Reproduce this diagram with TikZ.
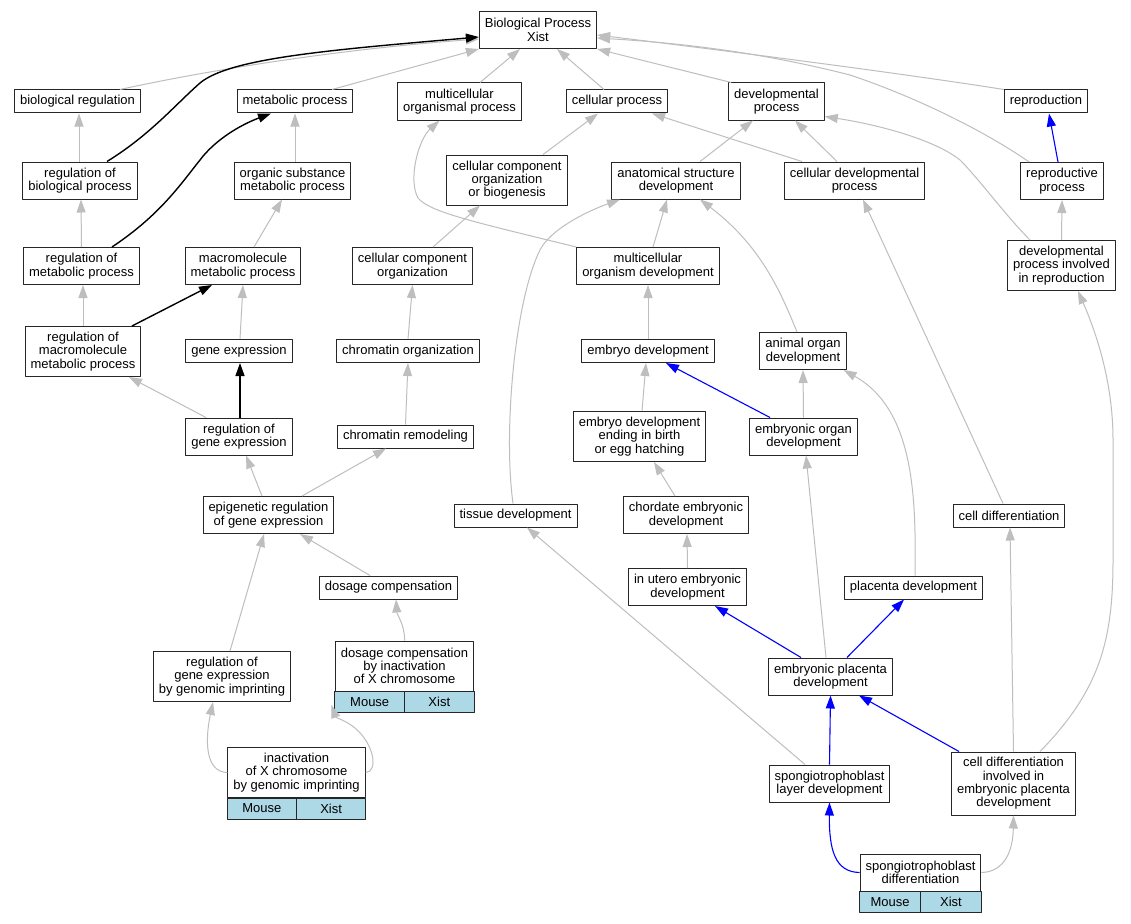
\documentclass[tikz,border=0pt]{standalone}
\usepackage{fontspec}
\setmainfont{Liberation Sans}
\usetikzlibrary{arrows.meta,fit}
\definecolor{isagray}{HTML}{BEBEBE}
\definecolor{cellblue}{HTML}{ADD8E6}
\begin{document}
\begin{tikzpicture}[x=1pt, y=-1pt, font=\fontsize{13}{13.3}\selectfont, line join=round, >={Triangle[length=13pt,width=9pt]},
    box1/.style={draw=black!85, line width=1pt, fill=white, align=center, inner xsep=5.5pt, inner ysep=0pt, minimum height=23pt},
    box2/.style={box1, minimum height=37pt},
    box3/.style={box1, minimum height=50pt},
    box4/.style={box1, minimum height=63pt},
    cell/.style={draw=black!85, line width=1pt, fill=cellblue, inner sep=0pt},
    isa/.style={->, isagray, line width=1pt},
    regs/.style={->, black, line width=1.4pt},
    partof/.style={->, blue, line width=1.1pt}]
    \path[use as bounding box, fill=white] (0,0) rectangle (1131,923);
    \node[box2] (bp) at (538,30) {Biological Process\\Xist};
    \node[box1] (bioreg) at (77.5,101.5) {biological regulation};
    \node[box1] (metab) at (295,101.5) {metabolic process};
    \node[box2] (mcorgp) at (459.5,101.5) {multicellular\\organismal process};
    \node[box1] (cellp) at (617,101.5) {cellular process};
    \node[box2] (devp) at (776.5,101.5) {developmental\\process};
    \node[box1] (repro) at (1046,101.5) {reproduction};
    \node[box2] (regbp) at (80,180.5) {regulation of\\biological process};
    \node[box2] (orgsub) at (292.5,180.5) {organic substance\\metabolic process};
    \node[box3] (ccob) at (507,180) {cellular component\\organization\\or biogenesis};
    \node[box2] (asdev) at (676,180.5) {anatomical structure\\development};
    \node[box2] (celldevp) at (854.5,180.5) {cellular developmental\\process};
    \node[box2] (reprop) at (1062,181) {reproductive\\process};
    \node[box2] (regmp) at (81.5,266) {regulation of\\metabolic process};
    \node[box2] (macro) at (243,266) {macromolecule\\metabolic process};
    \node[box2] (cco) at (412.5,266) {cellular component\\organization};
    \node[box2] (mcodev) at (648,266) {multicellular\\organism development};
    \node[box3] (dpir) at (1061.5,265.5) {developmental\\process involved\\in reproduction};
    \node[box3] (regmmp) at (83,351.5) {regulation of\\macromolecule\\metabolic process};
    \node[box1] (geneexp) at (239,351) {gene expression};
    \node[box1] (chromorg) at (408,351) {chromatin organization};
    \node[box1] (embdev) at (648,351) {embryo development};
    \node[box2] (aodev) at (803,351) {animal organ\\development};
    \node[box2] (reggene) at (239,436.5) {regulation of\\gene expression};
    \node[box1] (chromrem) at (405.5,436.5) {chromatin remodeling};
    \node[box3] (edbirth) at (639.5,436.5) {embryo development\\ending in birth\\or egg hatching};
    \node[box2] (eodev) at (803.5,436.5) {embryonic organ\\development};
    \node[box2] (epireg) at (268.5,515) {epigenetic regulation\\of gene expression};
    \node[box1] (tissdev) at (515.5,515.5) {tissue development};
    \node[box2] (chordev) at (686,515) {chordate embryonic\\development};
    \node[box1] (celldiff) at (1009,515.5) {cell differentiation};
    \node[box1] (dosage) at (388.5,587.5) {dosage compensation};
    \node[box2] (inutero) at (687.5,587) {in utero embryonic\\development};
    \node[box1] (placdev) at (913.5,587.5) {placenta development};
    \node[box3] (regimp) at (222,676.5) {regulation of\\gene expression\\by genomic imprinting};
    \node[box3] (dcx) at (404.5,666) {dosage compensation\\by inactivation\\of X chromosome};
    \node[cell, fit={(dcx.south west) ([yshift=-21pt]dcx.south)}, label={center:Mouse}] (dcxmouse) {};
    \node[cell, fit={(dcx.south) ([yshift=-21pt]dcx.south east)}, label={center:Xist}] (dcxxist) {};
    \node[box2] (embplac) at (830.5,676.5) {embryonic placenta\\development};
    \node[box3] (inactx) at (296.5,772.5) {inactivation\\of X chromosome\\by genomic imprinting};
    \node[cell, fit={(inactx.south west) ([yshift=-21pt]inactx.south)}, label={center:Mouse}] (inactxmouse) {};
    \node[cell, fit={(inactx.south) ([yshift=-21pt]inactx.south east)}, label={center:Xist}] (inactxxist) {};
    \node[box2] (sponglayer) at (829.5,783.5) {spongiotrophoblast\\layer development};
    \node[box4] (cdiep) at (1013.5,783.5) {cell differentiation\\involved in\\embryonic placenta\\development};
    \node[box2] (spongdiff) at (920.5,872.5) {spongiotrophoblast\\differentiation};
    \node[cell, fit={(spongdiff.south west) ([yshift=-21pt]spongdiff.south)}, label={center:Mouse}] (spongdiffmouse) {};
    \node[cell, fit={(spongdiff.south) ([yshift=-21pt]spongdiff.south east)}, label={center:Xist}] (spongdiffxist) {};
    \draw[isa] ([xshift=42.5pt]bioreg.north) .. controls (200,72) and (330,50) .. ([yshift=-9pt]bp.west);
    \draw[isa] ([xshift=37pt]metab.north) -- (bp.south west);
    \draw[isa] ([xshift=20.5pt]mcorgp.north) -- ([xshift=-18pt]bp.south);
    \draw[isa] ([xshift=-13pt]cellp.north) -- ([xshift=19pt]bp.south);
    \draw[isa] ([xshift=3pt]devp.north west) -- (bp.south east);
    \draw[isa] (repro.north west) .. controls (900,73) and (720,50) .. ([yshift=-5pt]bp.east);
    \draw[isa] ([xshift=9pt]reprop.north west) .. controls (980,128) and (910,95) .. (850,75) .. controls (760,52) and (680,43) .. ([yshift=-8pt]bp.east);
    \draw[isa] ([xshift=-1pt]regbp.north) -- ([xshift=1.5pt]bioreg.south);
    \draw[isa] ([xshift=2.5pt]orgsub.north) -- (metab.south);
    \draw[isa] ([xshift=36pt]ccob.north) -- ([xshift=-19pt]cellp.south);
    \draw[isa] ([xshift=24pt]asdev.north) -- ([xshift=-23.5pt]devp.south);
    \draw[isa] ([xshift=-17.5pt]celldevp.north) -- ([xshift=18.5pt]devp.south);
    \draw[isa] ([xshift=-52.5pt]celldevp.north) -- ([xshift=35pt]cellp.south);
    \draw[isa] ([xshift=-31.5pt]dpir.north) .. controls (1005,215) and (980,180) .. (960,160) .. controls (935,140) and (880,125) .. ([yshift=-15pt]devp.east);
    \draw[isa] (dpir.north) -- (reprop.south);
    \draw[isa] (regmp.north) -- ([xshift=1pt]regbp.south);
    \draw[isa] ([xshift=11pt]macro.north) -- ([xshift=-10.5pt]orgsub.south);
    \draw[isa] ([xshift=20.5pt]cco.north) -- ([xshift=-27pt]ccob.south);
    \draw[isa] ([xshift=5pt]mcodev.north) -- ([xshift=-9pt]asdev.south);
    \draw[isa] (mcodev.north west) .. controls (470,221) and (430,212) .. (418,198) .. controls (408,180) and (418,140) .. ([xshift=-20pt]mcorgp.south);
    \draw[isa] (regmmp.north) -- ([xshift=1.5pt]regmp.south);
    \draw[isa] ([xshift=1pt]geneexp.north) -- (macro.south);
    \draw[isa] (chromorg.north) -- (cco.south);
    \draw[isa] (embdev.north) -- (mcodev.south);
    \draw[isa] ([xshift=-6pt]aodev.north) .. controls (780,290) and (760,245) .. ([xshift=24pt]asdev.south);
    \draw[isa] ([xshift=-33pt]reggene.north) -- ([xshift=46pt]regmmp.south);
    \draw[isa] (chromrem.north) -- (chromorg.south);
    \draw[isa] ([xshift=2.5pt]edbirth.north) -- ([xshift=-2pt]embdev.south);
    \draw[isa] (eodev.north) -- (aodev.south);
    \draw[isa] ([xshift=-6.5pt]epireg.north) -- ([xshift=7pt]reggene.south);
    \draw[isa] ([xshift=33.5pt]epireg.north) -- ([xshift=-19.5pt]chromrem.south);
    \draw[isa] ([xshift=-2.5pt]tissdev.north) .. controls (503,430) and (515,300) .. (540,250) .. controls (550,230) and (585,212) .. ([xshift=-56pt]asdev.south);
    \draw[isa] ([xshift=-11pt]chordev.north) -- ([xshift=14.5pt]edbirth.south);
    \draw[isa] ([xshift=-6pt]celldiff.north) -- ([xshift=8.5pt]celldevp.south);
    \draw[isa] ([xshift=-18.5pt]dosage.north) -- ([xshift=31.5pt]epireg.south);
    \draw[isa] (inutero.north) -- ([xshift=1pt]chordev.south);
    \draw[isa] ([xshift=1.5pt]placdev.north) .. controls (916,500) and (915,410) .. ([xshift=-3pt]aodev.south east);
    \draw[isa] ([xshift=8pt]regimp.north) -- ([xshift=-4.5pt]epireg.south);
    \draw[isa] (dcx.north) .. controls (405,625) and (397,615) .. ([xshift=7.5pt]dosage.south);
    \draw[isa] ([xshift=-4.5pt]embplac.north) -- ([xshift=2.5pt]eodev.south);
    \draw[isa] (cdiep.north) -- ([xshift=1pt]celldiff.south);
    \draw[isa] ([xshift=26.5pt]cdiep.north) .. controls (1100,690) and (1113,640) .. (1113,560) -- (1113,440) .. controls (1113,380) and (1095,330) .. ([xshift=16.5pt]dpir.south);
    \draw[isa] (inactx.west) .. controls (205,772) and (205,740) .. ([xshift=-9pt]regimp.south);
    \draw[isa] (inactx.east) .. controls (378,772) and (375,745) .. (355,728) .. controls (345,720) and (336,718) .. ([xshift=-3pt,yshift=8pt]dcxmouse.south west);
    \draw[isa] ([xshift=-24.5pt]sponglayer.north) -- ([xshift=11.5pt]tissdev.south);
    \draw[isa] (spongdiff.east) .. controls (1005,872) and (1013,850) .. (cdiep.south);
    \draw[regs] ([xshift=27pt]regbp.north) .. controls (150,135) and (175,105) .. (200,83) .. controls (230,58) and (330,50) .. ([yshift=-7pt]bp.west);
    \draw[regs] ([xshift=30.5pt]regmp.north) .. controls (160,215) and (180,185) .. (200,160) .. controls (215,140) and (240,125) .. ([xshift=-24pt]metab.south);
    \draw[regs] ([xshift=49pt]regmmp.north) -- ([xshift=-31pt]macro.south);
    \draw[regs] ([xshift=1pt]reggene.north) -- ([xshift=1pt]geneexp.south);
    \draw[partof] ([xshift=-4pt]reprop.north) -- ([xshift=3pt]repro.south);
    \draw[partof] ([xshift=-33.5pt]eodev.north) -- ([xshift=18pt]embdev.south);
    \draw[partof] ([xshift=-29.5pt]embplac.north) -- ([xshift=27.5pt]inutero.south);
    \draw[partof] ([xshift=16.5pt]embplac.north) -- ([xshift=-9.5pt]placdev.south);
    \draw[partof] (sponglayer.north) -- (embplac.south);
    \draw[partof] ([xshift=-54.5pt]cdiep.north) -- ([xshift=28.5pt]embplac.south);
    \draw[partof] (spongdiff.west) .. controls (835,872) and (829,850) .. (sponglayer.south);
\end{tikzpicture}
\end{document}
